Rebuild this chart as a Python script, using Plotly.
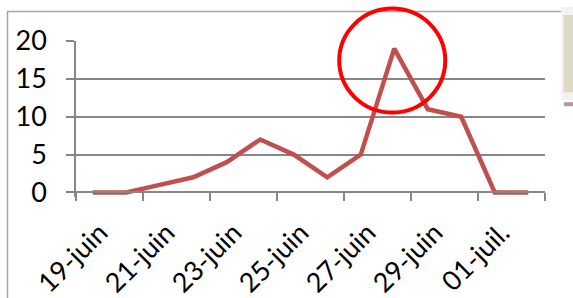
import plotly.graph_objects as go

# ---- data ----
dates = ["19-juin", "20-juin", "21-juin", "22-juin", "23-juin", "24-juin", "25-juin",
         "26-juin", "27-juin", "28-juin", "29-juin", "30-juin", "01-juil.", "02-juil."]
values = [0, 0, 1, 2, 4, 7, 5, 2, 5, 19, 11, 10, 0, 0]
y_ticks = [0, 5, 10, 15, 20]
highlight_index = 9  # peak circled in red

W, H = 573, 298
YMIN, YMAX = -0.6, 20
XMIN, XMAX = -0.5, len(dates) - 0.5
Y0_PX, Y20_PX = 192, 41            # pixel rows of value 0 and value 20
unit = (Y0_PX - Y20_PX) / 20.0
L, R = 76, 28
T = Y20_PX - (YMAX - 20) * unit
B = H - (Y0_PX - YMIN * unit)
pw, ph = W - L - R, H - T - B

def px_x(p):
    return (p - L) / pw

def px_y(p):
    return (H - B - p) / ph

x = list(range(len(dates)))
grey = "#878787"
font = "Lato, 'Liberation Sans', sans-serif"

fig = go.Figure()
fig.add_trace(go.Scatter(
    x=x, y=values, mode="lines",
    line=dict(color="#C0504D", width=4.5),
    hoverinfo="skip", showlegend=False,
))

fig.update_layout(
    width=W, height=H,
    margin=dict(l=L, r=R, t=T, b=B, pad=0, autoexpand=False),
    paper_bgcolor="white", plot_bgcolor="white",
    font=dict(family=font, size=26, color="black"),
    xaxis=dict(
        range=[XMIN, XMAX], automargin=False,
        tickmode="array", tickvals=x[::2], ticktext=dates[::2],
        tickangle=-45, ticks="", showgrid=False, zeroline=False,
        showline=True, linecolor=grey, linewidth=1.5,
        anchor="free", position=(0 - YMIN) / (YMAX - YMIN),
        ticklabelstandoff=13, ticklabelshift=7,
        tickfont=dict(size=27),
        minor=dict(tickmode="array", tickvals=[i - 0.5 for i in x[::2]] + [len(dates) - 0.5],
                   ticks="outside", ticklen=8, tickwidth=1.5, tickcolor=grey, showgrid=False),
    ),
    yaxis=dict(
        range=[YMIN, YMAX], tickvals=y_ticks, automargin=False,
        ticks="outside", ticklen=8, tickwidth=1.5, tickcolor=grey,
        showgrid=True, gridcolor=grey, gridwidth=1.5, zeroline=False,
        showline=True, linecolor=grey, linewidth=1.5,
        ticklabelstandoff=14, tickfont=dict(size=27),
    ),
    shapes=[
        # chart area border (left and top)
        dict(type="line", xref="paper", yref="paper", x0=px_x(7.5), x1=px_x(7.5),
             y0=px_y(11.5), y1=px_y(300), line=dict(color="#A6A6A6", width=1.5), layer="below"),
        dict(type="line", xref="paper", yref="paper", x0=px_x(7), x1=px_x(561),
             y0=px_y(11.5), y1=px_y(11.5), line=dict(color="#A6A6A6", width=1.5), layer="below"),
        # partial legend box on the right
        dict(type="rect", xref="paper", yref="paper", x0=px_x(561), x1=px_x(580),
             y0=px_y(100), y1=px_y(7), fillcolor="#F2F2F2", line=dict(width=0)),
        dict(type="rect", xref="paper", yref="paper", x0=px_x(563.5), x1=px_x(580),
             y0=px_y(92), y1=px_y(15), fillcolor="#DDD9C4", line=dict(width=0)),
        dict(type="rect", xref="paper", yref="paper", x0=px_x(564), x1=px_x(580),
             y0=px_y(106), y1=px_y(102), fillcolor="#B8969A", line=dict(width=0)),
        # red highlight circle around the peak
        dict(type="circle", xref="paper", yref="paper",
             xsizemode="pixel", ysizemode="pixel",
             xanchor=(highlight_index - XMIN) / (XMAX - XMIN),
             yanchor=(values[highlight_index] - YMIN) / (YMAX - YMIN),
             x0=-55, x1=51, y0=-64, y1=40,
             line=dict(color="#FF0000", width=4)),
    ],
)

fig.write_html("out.html", config={"displayModeBar": False},
               post_script="document.body.style.margin='0';document.body.style.overflow='hidden';")
